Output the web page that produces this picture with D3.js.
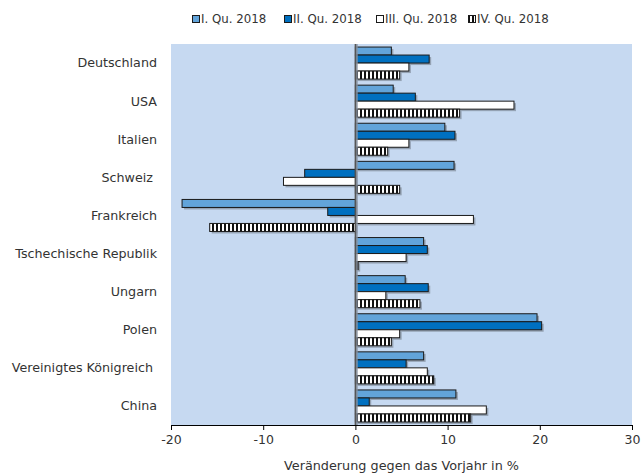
<!DOCTYPE html>
<html><head><meta charset="utf-8">
<script src="https://cdn.jsdelivr.net/npm/d3@7"></script>
<style>body{margin:0;background:#fff}svg{display:block}text{font-family:"DejaVu Sans",sans-serif;fill:#333}</style>
</head><body><svg id="c" width="642" height="473"></svg>
<script>
const categories = ["Deutschland","USA","Italien","Schweiz ","Frankreich","Tschechische Republik","Ungarn","Polen","Vereinigtes Königreich ","China"];
const seriesNames = ["I. Qu. 2018","II. Qu. 2018","III. Qu. 2018","IV. Qu. 2018"];
const q1 = [3.9, 4.1, 9.7, 10.7, -18.8, 7.4, 5.4, 19.7, 7.4, 10.9];
const q2 = [8.0, 6.5, 10.8, -5.5, -3.0, 7.8, 7.9, 20.2, 5.5, 1.5];
const q3 = [5.8, 17.2, 5.8, -7.8, 12.8, 5.5, 3.3, 4.8, 7.8, 14.2];
const q4 = [4.8, 11.3, 3.5, 4.8, -15.8, 0.3, 7.0, 3.9, 8.5, 12.5];
const xTicks = [-20,-10,0,10,20,30];
const series = [q1,q2,q3,q4];

const svg = d3.select("#c");
const defs = svg.append("defs");
const pat = defs.append("pattern").attr("id","stripes").attr("patternUnits","userSpaceOnUse").attr("width",4).attr("height",4);
pat.append("rect").attr("width",4).attr("height",4).attr("fill","#fff");
pat.append("rect").attr("width",2).attr("height",4).attr("fill","#111");
const fills = ["#62A4DA","#0070C0","#ffffff","url(#stripes)"];

const L=171, R=632, T=44, B=425;
const x = d3.scaleLinear().domain([-20,30]).range([L,R]);
const y = d3.scaleBand().domain(categories).range([T,B]).paddingInner(0.16).paddingOuter(0.08);
const yi = d3.scaleBand().domain(d3.range(4)).range([0,y.bandwidth()]);

svg.append("rect").attr("x",L).attr("y",T).attr("width",R-L).attr("height",B-T).attr("fill","#C6D9F1");

const g = svg.append("g");
series.forEach((s,si)=>{
  const rows = categories.map((c,i)=>({c,v:s[i]}));
  g.selectAll(null).data(rows).enter().append("rect")
    .attr("x",d=>Math.min(x(0),x(d.v))+2).attr("y",d=>y(d.c)+yi(si)+2)
    .attr("width",d=>Math.abs(x(d.v)-x(0))).attr("height",yi.bandwidth())
    .attr("fill","#7f8a99").attr("opacity",0.7);
});
series.forEach((s,si)=>{
  const rows = categories.map((c,i)=>({c,v:s[i]}));
  g.selectAll(null).data(rows).enter().append("rect")
    .attr("x",d=>Math.min(x(0),x(d.v))).attr("y",d=>y(d.c)+yi(si))
    .attr("width",d=>Math.abs(x(d.v)-x(0))).attr("height",yi.bandwidth())
    .attr("fill",fills[si]).attr("stroke","#1a1a1a").attr("stroke-width",1);
});
// zero line
svg.append("line").attr("x1",x(0)+1.5).attr("x2",x(0)+1.5).attr("y1",T).attr("y2",B).attr("stroke","#8a94a3").attr("stroke-width",1.5);
svg.append("line").attr("x1",x(0)).attr("x2",x(0)).attr("y1",T).attr("y2",B).attr("stroke","#555").attr("stroke-width",1.5);

// x axis
const ax = svg.append("g").attr("transform",`translate(0,${B})`)
  .call(d3.axisBottom(x).tickValues(xTicks).tickFormat(d=>String(d)).tickSize(5).tickSizeOuter(0).tickPadding(5));
ax.select(".domain").attr("stroke","#000");
ax.selectAll(".tick line").attr("stroke","#000");
ax.selectAll("text").attr("font-size",12.5).attr("fill","#333").style("font-family","'DejaVu Sans',sans-serif");
svg.append("text").attr("x",(L+R)/2).attr("y",466).attr("dy","0.35em").attr("text-anchor","middle").attr("font-size",12.8).text("Veränderung gegen das Vorjahr in %");

// y labels
svg.selectAll(null).data(categories).enter().append("text")
  .attr("x",157).attr("y",d=>y(d)+y.bandwidth()/2).attr("dy","0.35em")
  .attr("text-anchor","end").attr("font-size",12.7).attr("xml:space","preserve").style("white-space","pre").text(d=>d);

// legend
const lx = [192, 284, 376, 468];
const lg = svg.append("g");
seriesNames.forEach((n,i)=>{
  lg.append("rect").attr("x",lx[i]+0.5).attr("y",15.5).attr("width",7).attr("height",7)
    .attr("fill",i===3?"url(#stripes)":fills[i]).attr("stroke","#1a1a1a").attr("stroke-width",1);
  lg.append("text").attr("x",lx[i]+9).attr("y",19).attr("dy","0.35em").attr("font-size",11.8).text(n);
});
</script></body></html>
